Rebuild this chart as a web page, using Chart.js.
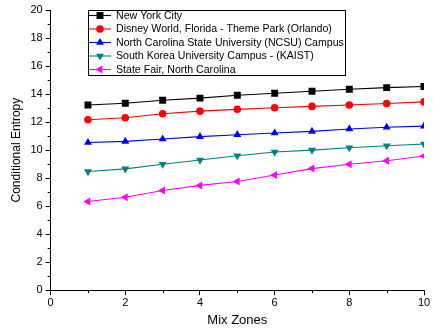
<!DOCTYPE html>
<html lang="en">
<head>
    <meta charset="UTF-8">
    <title>Conditional Entropy vs Mix Zones</title>
    <script src="https://cdn.jsdelivr.net/npm/chart.js"></script>
    <style>
        body {
            margin: 0;
            padding: 0;
            background-color: #fff;
        }
        .chart-container {
            width: 434px;
            height: 328px;
        }
    </style>
</head>
<body>
    <div class="chart-container">
        <canvas id="entropyChart"></canvas>
    </div>
    <script>
        // data
        const mixZones = [1, 2, 3, 4, 5, 6, 7, 8, 9, 10];
        const seriesNames = [
            'New York City',
            'Disney World, Florida - Theme Park (Orlando)',
            'North Carolina State University (NCSU) Campus',
            'South Korea University Campus - (KAIST)',
            'State Fair, North Carolina'
        ];
        const newYork = [13.22, 13.34, 13.56, 13.71, 13.92, 14.06, 14.2, 14.34, 14.46, 14.54];
        const disney = [12.17, 12.31, 12.59, 12.78, 12.91, 13.02, 13.12, 13.22, 13.33, 13.44];
        const ncsu = [10.54, 10.62, 10.79, 10.96, 11.1, 11.22, 11.34, 11.51, 11.63, 11.71];
        const kaist = [8.47, 8.66, 8.99, 9.29, 9.6, 9.86, 10.0, 10.17, 10.31, 10.44];
        const stateFair = [6.33, 6.63, 7.12, 7.48, 7.76, 8.22, 8.68, 8.99, 9.24, 9.58];

        const colors = ['#000000', '#ff0000', '#0000ff', '#008080', '#ff00ff'];
        const markers = [
            { style: 'rect', rotation: 0, radius: 4.9 },
            { style: 'circle', rotation: 0, radius: 3.8 },
            { style: 'triangle', rotation: 0, radius: 4.6 },
            { style: 'triangle', rotation: 180, radius: 4.6 },
            { style: 'triangle', rotation: 270, radius: 4.6 }
        ];
        const allValues = [newYork, disney, ncsu, kaist, stateFair];

        const fontFamily = '"Liberation Sans", Arial, sans-serif';

        const datasets = allValues.map((vals, i) => ({
            label: seriesNames[i],
            data: vals.map((v, j) => ({ x: mixZones[j], y: v })),
            borderColor: colors[i],
            backgroundColor: colors[i],
            borderWidth: 1.1,
            pointStyle: markers[i].style,
            rotation: markers[i].rotation,
            pointRadius: markers[i].radius,
            pointBorderWidth: 0,
            tension: 0
        }));

        // legend box drawn inside the plot, like the original figure
        const insideLegend = {
            id: 'insideLegend',
            afterDraw(chart) {
                const c = chart.ctx;
                const left = 88, top = 10, w = 257, h = 65;
                c.save();
                c.fillStyle = '#fff';
                c.fillRect(left, top, w, h);
                c.strokeStyle = '#000';
                c.lineWidth = 1;
                c.strokeRect(left + 0.5, top + 0.5, w, h);
                c.font = '10.6px ' + fontFamily;
                c.textBaseline = 'middle';
                chart.data.datasets.forEach((ds, i) => {
                    const y = top + 5.5 + i * 13.5;
                    c.strokeStyle = ds.borderColor;
                    c.lineWidth = 1.1;
                    c.beginPath();
                    c.moveTo(left + 1, y);
                    c.lineTo(left + 23, y);
                    c.stroke();
                    c.fillStyle = ds.backgroundColor;
                    Chart.helpers.drawPoint(c, {
                        pointStyle: ds.pointStyle,
                        rotation: ds.rotation,
                        radius: ds.pointRadius,
                        borderWidth: 0
                    }, left + 12, y);
                    c.fillStyle = '#000';
                    c.fillText(ds.label, left + 28, y + 0.5);
                });
                c.restore();
            }
        };

        // short minor ticks between the labelled ones
        const minorTicks = {
            id: 'minorTicks',
            afterDraw(chart) {
                const c = chart.ctx;
                const xs = chart.scales.x, ys = chart.scales.y;
                const area = chart.chartArea;
                c.save();
                c.strokeStyle = '#000';
                c.lineWidth = 1;
                c.beginPath();
                for (let v = 1; v < 20; v += 2) {
                    const py = Math.round(ys.getPixelForValue(v)) + 0.5;
                    c.moveTo(area.left - 3, py);
                    c.lineTo(area.left, py);
                }
                for (let v = 1; v < 10; v += 2) {
                    const px = Math.round(xs.getPixelForValue(v)) + 0.5;
                    c.moveTo(px, area.bottom);
                    c.lineTo(px, area.bottom + 3);
                }
                c.stroke();
                c.restore();
            }
        };

        const ctx = document.getElementById('entropyChart').getContext('2d');
        new Chart(ctx, {
            type: 'line',
            data: { datasets: datasets },
            options: {
                responsive: true,
                maintainAspectRatio: false,
                animation: false,
                layout: { padding: { top: 10, right: 10, left: 9, bottom: 0 } },
                plugins: {
                    legend: { display: false },
                    tooltip: { enabled: false }
                },
                scales: {
                    x: {
                        type: 'linear',
                        min: 0,
                        max: 10,
                        ticks: {
                            stepSize: 2,
                            color: '#000',
                            padding: 1,
                            font: { size: 11, family: fontFamily }
                        },
                        grid: {
                            drawOnChartArea: false,
                            tickLength: 5,
                            tickColor: '#000'
                        },
                        border: { color: '#000', width: 1 },
                        title: {
                            display: true,
                            text: 'Mix Zones',
                            color: '#000',
                            padding: { top: 2, bottom: 0 },
                            font: { size: 13, family: fontFamily }
                        }
                    },
                    y: {
                        min: 0,
                        max: 20,
                        ticks: {
                            stepSize: 2,
                            color: '#000',
                            padding: 3,
                            font: { size: 11, family: fontFamily }
                        },
                        grid: {
                            drawOnChartArea: false,
                            tickLength: 5,
                            tickColor: '#000'
                        },
                        border: { color: '#000', width: 1 },
                        title: {
                            display: true,
                            text: 'Conditional Entropy',
                            color: '#000',
                            padding: { top: 0, bottom: 4 },
                            font: { size: 12, family: fontFamily }
                        }
                    }
                }
            },
            plugins: [insideLegend, minorTicks]
        });
    </script>
</body>
</html>
